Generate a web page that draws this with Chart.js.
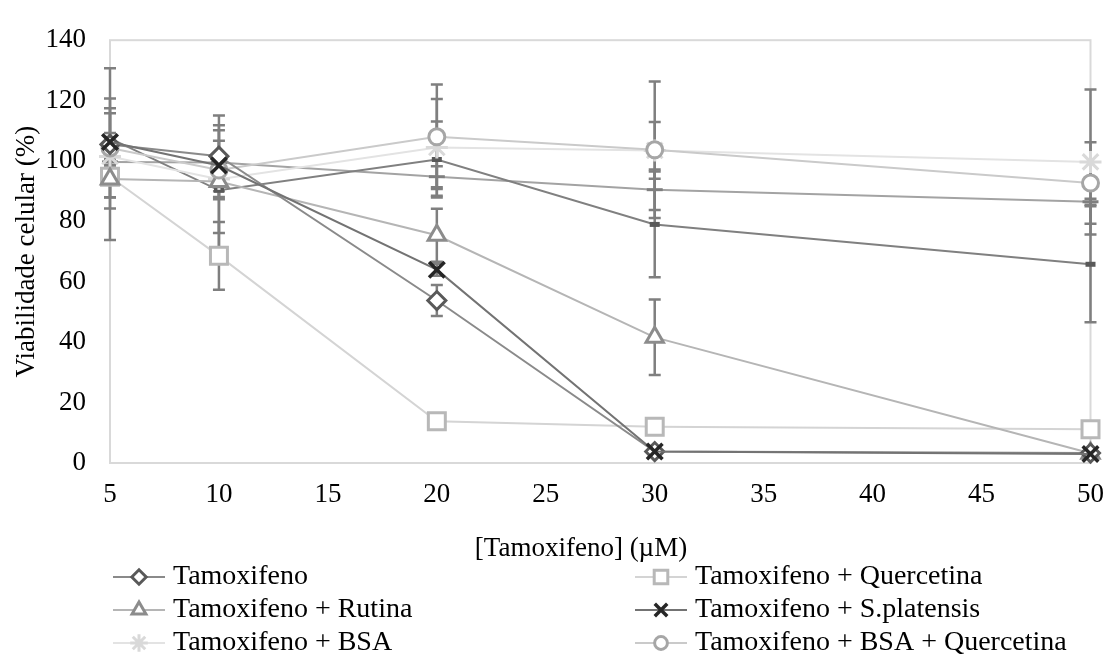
<!DOCTYPE html>
<html>
<head>
<meta charset="utf-8">
<script src="https://cdn.jsdelivr.net/npm/chart.js@4/dist/chart.umd.min.js"></script>
<style>
  html, body { margin: 0; padding: 0; background: #fff; }
</style>
</head>
<body>
<canvas id="myChart" width="1120" height="655"></canvas>
<script>
// concentrations (µM) on the x axis
const concentrations = [5, 10, 20, 30, 50];
const xTickValues = [5, 10, 15, 20, 25, 30, 35, 40, 45, 50];
const yTickValues = [0, 20, 40, 60, 80, 100, 120, 140];
const xTitle = '[Tamoxifeno] (µM)';
const yTitle = 'Viabilidade celular (%)';

// cell viability (%) and standard deviations per treatment
const tamoxifeno        = [105.5, 101.6, 53.8, 3.8, 3.3];
const tamoxifenoErr     = [12.0, 13.5, 5.1, 0.6, 0.5];
const quercetina        = [94.8, 68.6, 13.8, 12.0, 11.2];
const quercetinaErr     = [21.0, 11.2, 1.5, 1.2, 1.5];
const rutina            = [94.0, 93.2, 75.4, 41.6, 3.2];
const rutinaErr         = [6.0, 17.0, 8.8, 12.5, 1.0];
const sPlatensis        = [106.3, 98.5, 64.0, 3.8, 3.0];
const sPlatensisErr     = [3.0, 2.0, 2.0, 0.5, 0.5];
const bsa               = [101.5, 94.0, 104.5, 103.5, 99.7];
const bsaErr            = [3.0, 4.0, 16.0, 9.4, 24.0];
const bsaQuercetina     = [104.3, 97.0, 108.0, 103.7, 92.7];
const bsaQuercetinaErr  = [16.4, 9.7, 17.3, 22.6, 13.5];
const serieA            = [107.5, 90.3, 100.5, 79.0, 65.8];
const serieAErr         = [23.2, 21.5, 12.6, 17.5, 19.2];
const serieB            = [99.7, 99.5, 94.8, 90.5, 86.5];
const serieBErr         = [1.0, 1.0, 3.5, 6.7, 1.0];

const FAMILY = '"Liberation Serif", "Times New Roman", serif';
const FONT = { family: FAMILY, size: 27 };

function pts(values) {
  return concentrations.map((c, i) => ({ x: c, y: values[i] }));
}

function serie(label, values, errors, line, marker, style, radius, bw) {
  return {
    label: label,
    data: pts(values),
    errors: errors,
    borderColor: line,
    borderWidth: 2,
    pointStyle: style,
    pointRadius: radius,
    pointBorderColor: marker,
    pointBackgroundColor: style === 'line' ? marker : '#ffffff',
    pointBorderWidth: bw,
    tension: 0,
    fill: false,
    clip: false
  };
}

const datasets = [
  serie('Tamoxifeno + S.platensis', sPlatensis, sPlatensisErr, '#737373', '#262626', 'crossRot', 11, 3.5),
  serie('Tamoxifeno', tamoxifeno, tamoxifenoErr, '#8a8a8a', '#595959', 'rectRot', 9, 3),
  serie('Tamoxifeno + BSA + Quercetina', bsaQuercetina, bsaQuercetinaErr, '#cacaca', '#a6a6a6', 'circle', 8, 3),
  serie('Tamoxifeno + Rutina', rutina, rutinaErr, '#b5b5b5', '#8c8c8c', 'triangle', 10, 3),
  serie('Tamoxifeno + Quercetina', quercetina, quercetinaErr, '#d4d4d4', '#b8b8b8', 'rect', 12, 3),
  serie('Tamoxifeno + BSA', bsa, bsaErr, '#e3e3e3', '#d9d9d9', 'star', 11, 3),
  serie('A', serieA, serieAErr, '#808080', '#595959', 'line', 5, 5),
  serie('B', serieB, serieBErr, '#a3a3a3', '#7f7f7f', 'line', 8, 3)
];

// legend order, laid out in two columns
const legendOrder = [
  'Tamoxifeno', 'Tamoxifeno + Quercetina',
  'Tamoxifeno + Rutina', 'Tamoxifeno + S.platensis',
  'Tamoxifeno + BSA', 'Tamoxifeno + BSA + Quercetina'
];

const errorBars = {
  id: 'errorBars',
  beforeDatasetsDraw(chart) {
    const { ctx, scales: { x, y } } = chart;
    ctx.save();
    ctx.strokeStyle = '#7f7f7f';
    ctx.lineWidth = 2.5;
    chart.data.datasets.forEach(ds => {
      ds.data.forEach((p, i) => {
        const e = ds.errors[i];
        if (!e) return;
        const px = x.getPixelForValue(p.x);
        const top = y.getPixelForValue(p.y + e);
        const bot = y.getPixelForValue(p.y - e);
        ctx.beginPath();
        ctx.moveTo(px, top); ctx.lineTo(px, bot);
        ctx.moveTo(px - 6, top); ctx.lineTo(px + 6, top);
        ctx.moveTo(px - 6, bot); ctx.lineTo(px + 6, bot);
        ctx.stroke();
      });
    });
    ctx.restore();
  }
};

const plotBorder = {
  id: 'plotBorder',
  beforeDatasetsDraw(chart) {
    const { ctx, chartArea: a } = chart;
    ctx.save();
    ctx.strokeStyle = '#d9d9d9';
    ctx.lineWidth = 2;
    ctx.strokeRect(a.left, a.top, a.right - a.left, a.bottom - a.top);
    ctx.restore();
  }
};

// x axis title plus a two-column legend under the plot
const bottomBlock = {
  id: 'bottomBlock',
  afterDraw(chart) {
    const ctx = chart.ctx;
    const colX = [113, 635];
    const rowY = [577, 610, 643];
    ctx.save();
    ctx.textBaseline = 'middle';
    ctx.fillStyle = '#000';
    ctx.font = '27px ' + FAMILY;
    ctx.textAlign = 'center';
    ctx.fillText(xTitle, 581, 549);
    ctx.textAlign = 'left';
    ctx.font = '28px ' + FAMILY;
    legendOrder.forEach((name, i) => {
      const ds = chart.data.datasets.find(d => d.label === name);
      const x0 = colX[i % 2];
      const y0 = rowY[Math.floor(i / 2)];
      ctx.strokeStyle = ds.borderColor;
      ctx.lineWidth = 2;
      ctx.beginPath();
      ctx.moveTo(x0, y0); ctx.lineTo(x0 + 52, y0);
      ctx.stroke();
      ctx.strokeStyle = ds.pointBorderColor;
      ctx.fillStyle = ds.pointBackgroundColor;
      ctx.lineWidth = ds.pointBorderWidth;
      Chart.helpers.drawPoint(ctx, {
        pointStyle: ds.pointStyle,
        radius: ds.pointRadius * 0.8,
        borderWidth: ds.pointBorderWidth,
        rotation: 0
      }, x0 + 26, y0);
      ctx.fillStyle = '#000';
      ctx.fillText(name, x0 + 60, y0);
    });
    ctx.restore();
  }
};

new Chart(document.getElementById('myChart'), {
  type: 'line',
  data: { datasets: datasets },
  plugins: [plotBorder, errorBars, bottomBlock],
  options: {
    responsive: false,
    animation: false,
    layout: { padding: { top: 28, right: 18, left: 0, bottom: 0 } },
    plugins: {
      legend: { display: false },
      tooltip: { enabled: false }
    },
    scales: {
      x: {
        type: 'linear',
        min: 5,
        max: 50,
        afterBuildTicks: s => { s.ticks = xTickValues.map(v => ({ value: v })); },
        afterFit: s => { s.height = 192; },
        grid: { display: false, drawTicks: false },
        border: { display: false },
        ticks: { font: FONT, color: '#000', padding: 16, maxRotation: 0, autoSkip: false }
      },
      y: {
        min: 0,
        max: 140,
        afterBuildTicks: s => { s.ticks = yTickValues.map(v => ({ value: v })); },
        afterFit: s => { s.width = 110; },
        grid: { display: false, drawTicks: false },
        border: { display: false },
        ticks: { font: FONT, color: '#000', padding: 24 },
        title: {
          display: true,
          text: yTitle,
          font: FONT,
          color: '#000',
          padding: { top: 11, bottom: 0 }
        }
      }
    }
  }
});
</script>
</body>
</html>
